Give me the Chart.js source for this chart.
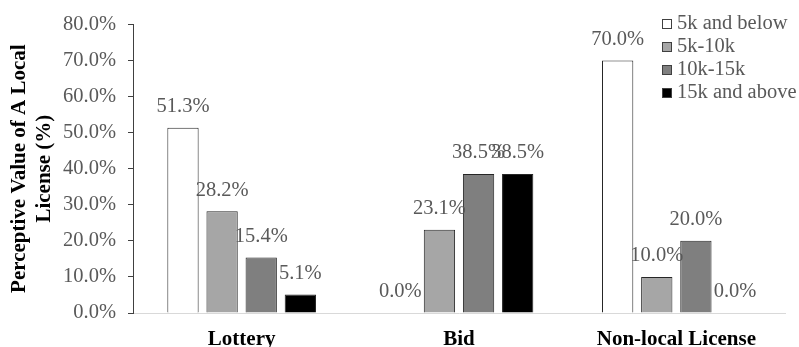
<!DOCTYPE html>
<html lang="en">
<head>
    <meta charset="UTF-8">
    <title>Perceptive Value of A Local License</title>
    <script src="https://cdn.jsdelivr.net/npm/chart.js"></script>
    <style>
        html, body { margin: 0; padding: 0; background: #fff; }
        #wrap { width: 799px; height: 347px; }
    </style>
</head>
<body>
    <div id="wrap">
        <canvas id="graphique" width="799" height="347"></canvas>
    </div>

    <script>
        // categories and series (values in %)
        const categories = ['Lottery', 'Bid', 'Non-local License'];
        const seriesNames = ['5k and below', '5k-10k', '10k-15k', '15k and above'];
        const below5k = [51.3, 0.0, 70.0];
        const from5to10k = [28.2, 23.1, 10.0];
        const from10to15k = [15.4, 38.5, 20.0];
        const above15k = [5.1, 38.5, 0.0];
        const yTicks = [0, 10, 20, 30, 40, 50, 60, 70, 80];

        const serif = "'Liberation Serif', 'Times New Roman', serif";
        const fills = ['#ffffff', '#a6a6a6', '#7f7f7f', '#000000'];
        const allSeries = [below5k, from5to10k, from10to15k, above15k];

        // value labels above each bar
        const barLabels = {
            id: 'barLabels',
            afterDatasetsDraw(chart) {
                const ctx = chart.ctx;
                ctx.save();
                ctx.font = '20.5px ' + serif;
                ctx.fillStyle = '#595959';
                ctx.textAlign = 'center';
                ctx.textBaseline = 'middle';
                chart.data.datasets.forEach((ds, i) => {
                    chart.getDatasetMeta(i).data.forEach((bar, j) => {
                        ctx.fillText(ds.data[j].toFixed(1) + '%', bar.x, bar.y - 21);
                    });
                });
                ctx.restore();
            }
        };

        // legend inside the plot, top right
        const legendInside = {
            id: 'legendInside',
            afterDraw(chart) {
                const ctx = chart.ctx;
                ctx.save();
                ctx.font = '20.5px ' + serif;
                ctx.textBaseline = 'middle';
                ctx.textAlign = 'left';
                chart.data.datasets.forEach((ds, i) => {
                    const y = 24 + i * 23;
                    ctx.fillStyle = ds.backgroundColor;
                    ctx.fillRect(662.5, y - 4.5, 9, 9);
                    ctx.strokeStyle = '#404040';
                    ctx.lineWidth = 1;
                    ctx.strokeRect(662.5, y - 4.5, 9, 9);
                    ctx.fillStyle = '#595959';
                    ctx.fillText(ds.label, 677, y);
                });
                ctx.restore();
            }
        };

        const ctx = document.getElementById('graphique').getContext('2d');
        const myChart = new Chart(ctx, {
            type: 'bar',
            data: {
                labels: categories,
                datasets: seriesNames.map((name, i) => ({
                    label: name,
                    data: allSeries[i],
                    backgroundColor: fills[i],
                    borderColor: '#262626',
                    borderWidth: 1,
                    categoryPercentage: 0.72,
                    barPercentage: 0.8
                }))
            },
            options: {
                responsive: false,
                animation: false,
                devicePixelRatio: 1,
                layout: { padding: { top: 20, right: 14, left: 0, bottom: 0 } },
                plugins: {
                    legend: { display: false },
                    tooltip: { enabled: false }
                },
                scales: {
                    x: {
                        grid: { display: true, drawOnChartArea: false, drawTicks: false },
                        border: { display: true, color: '#d9d9d9', width: 1 },
                        ticks: {
                            color: '#000',
                            padding: 14,
                            font: { family: serif, size: 21, weight: 'bold' }
                        },
                        afterFit(scale) { scale.height = 34; }
                    },
                    y: {
                        min: 0,
                        max: 80,
                        afterBuildTicks(scale) { scale.ticks = yTicks.map(v => ({ value: v })); },
                        grid: { drawOnChartArea: false, drawTicks: true, tickLength: 5, color: '#404040' },
                        border: { display: true, color: '#404040', width: 1 },
                        ticks: {
                            color: '#595959',
                            padding: 12,
                            font: { family: serif, size: 20.5 },
                            callback: v => v.toFixed(1) + '%'
                        },
                        title: {
                            display: true,
                            text: ['Perceptive Value of A Local', 'License (%)'],
                            color: '#000',
                            padding: { top: 7, bottom: 0 },
                            font: { family: serif, size: 21, weight: 'bold', lineHeight: 1.2 }
                        },
                        afterFit(scale) { scale.width = 133; }
                    }
                }
            },
            plugins: [barLabels, legendInside]
        });
    </script>
</body>
</html>
